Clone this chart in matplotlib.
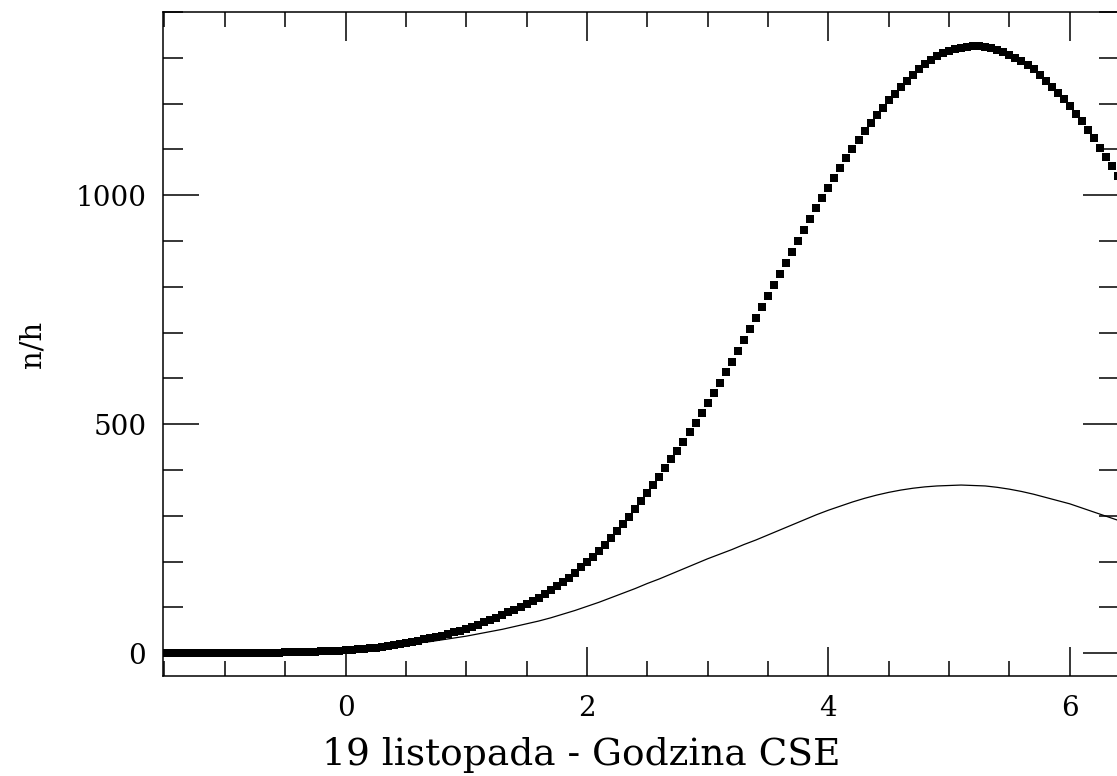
import numpy as np
import matplotlib
matplotlib.use("Agg")
import matplotlib.pyplot as plt
from matplotlib.ticker import MultipleLocator

plt.rcParams['font.family'] = ['DejaVu Serif']

# dotted series: one point every 0.05 h from -1.5 to 6.4
x_start = -1.5
x_step = 0.05
rate_dots = [
    0, 0, 0, 0, 0, 0, 0, 0, 0, 0,
    0, 0, 0, 0, 1, 1, 1, 1, 1, 1,
    2, 2, 2, 3, 3, 3, 4, 4, 5, 5,
    6, 7, 8, 9, 11, 12, 14, 16, 18, 20,
    22, 24, 27, 30, 32, 35, 38, 41, 45, 49,
    53, 58, 62, 67, 72, 77, 83, 89, 95, 101,
    107, 114, 121, 129, 137, 146, 155, 164, 176, 187,
    198, 210, 223, 237, 251, 266, 282, 298, 315, 332,
    350, 367, 385, 404, 423, 442, 462, 482, 503, 524,
    546, 568, 590, 613, 636, 659, 683, 707, 731, 755,
    779, 804, 828, 852, 876, 900, 924, 948, 971, 994,
    1016, 1038, 1060, 1081, 1101, 1121, 1140, 1158, 1175, 1191,
    1207, 1222, 1236, 1250, 1263, 1275, 1286, 1296, 1304, 1310,
    1315, 1319, 1322, 1324, 1325, 1325, 1324, 1322, 1318, 1313,
    1307, 1300, 1292, 1284, 1275, 1262, 1249, 1236, 1223, 1210,
    1194, 1178, 1161, 1143, 1124, 1104, 1084, 1063, 1041,
]
hours_dots = x_start + x_step * np.arange(len(rate_dots))

# solid curve, read every 0.1 h from -1.5 to 6.5
rate_line = [
    0, 0, 0, 0, 0, 0, 0, 1, 1, 1,
    2, 2, 3, 4, 5, 6, 8, 10, 13, 16,
    19, 22, 25, 29, 33, 37, 42, 47, 52, 58,
    64, 70, 77, 85, 93, 102, 111, 121, 131, 141,
    152, 162, 173, 184, 195, 206, 216, 226, 237, 247,
    258, 269, 280, 291, 302, 312, 321, 330, 338, 345,
    351, 356, 360, 363, 365, 366, 367, 366, 365, 362,
    358, 353, 347, 340, 333, 326, 317, 308, 299, 290,
    280,
]
hours_line = -1.5 + 0.1 * np.arange(len(rate_line))

W, H = 1117, 776
fig = plt.figure(figsize=(W / 100, H / 100), dpi=100)
left, right, top, bottom = 163, 1119, 12, 676
ax = fig.add_axes([left / W, 1 - bottom / H, (right - left) / W, (bottom - top) / H])

ax.plot(hours_dots, rate_dots, 's', color='black', markersize=5.4, markeredgewidth=0)
ax.plot(hours_line, rate_line, '-', color='black', linewidth=0.9)

ax.set_xlim(-1.512, 6.408)
ax.set_ylim(-50, 1400)

ax.xaxis.set_major_locator(MultipleLocator(2))
ax.xaxis.set_minor_locator(MultipleLocator(0.5))
ax.yaxis.set_major_locator(MultipleLocator(500))
ax.yaxis.set_minor_locator(MultipleLocator(100))

ax.tick_params(axis='both', which='both', direction='in', top=True, right=True,
               width=1.1, labelsize=20, colors='black')
ax.tick_params(axis='x', which='major', length=21, pad=14)
ax.tick_params(axis='x', which='minor', length=11)
ax.tick_params(axis='y', which='major', length=26, pad=12)
ax.tick_params(axis='y', which='minor', length=14.4)
for s in ax.spines.values():
    s.set_linewidth(1.1)

ax.set_xlabel('19 listopada - Godzina CSE', fontsize=27, va='baseline')
ax.xaxis.set_label_coords(0.437, -(765 - bottom) / (bottom - top))
ax.set_ylabel('n/h', fontsize=21, va='center')
ax.yaxis.set_label_coords((32 - left) / (right - left), 0.5)

fig.savefig('out.png', dpi=100)
